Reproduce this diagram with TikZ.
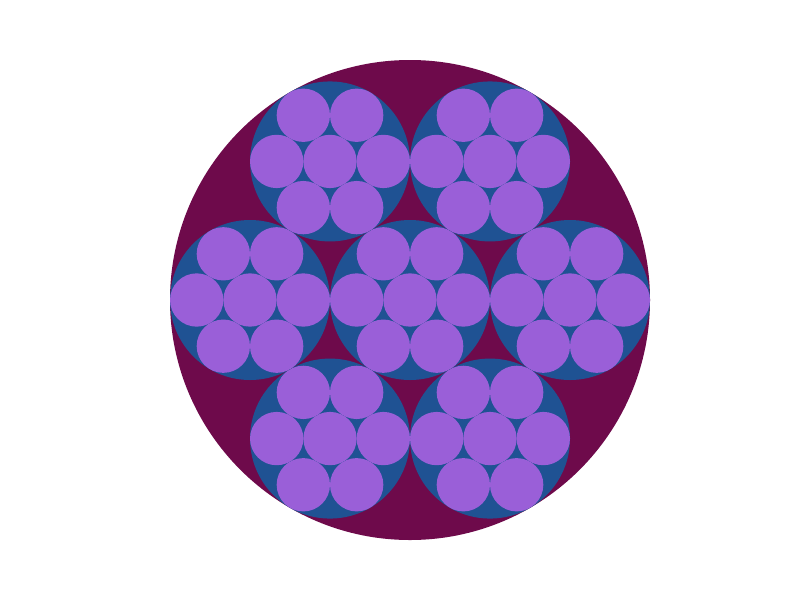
\documentclass[tikz,border=0pt]{standalone}
\definecolor{outerc}{HTML}{6E0A4B}
\definecolor{midc}{HTML}{1F5293}
\definecolor{smallc}{HTML}{9A5FD8}
\begin{document}
\begin{tikzpicture}[x=1pt,y=-1pt]
\useasboundingbox (0,0) rectangle (800,600);
\fill[outerc] (410,300) circle (240);
\foreach \a/\r in {0/0,0/160,60/160,120/160,180/160,240/160,300/160}{
  \begin{scope}[shift={({410+\r*cos(\a)},{300+\r*sin(\a)})}]
    \fill[midc] (0,0) circle (80);
    \foreach \b/\s in {0/0,0/53.333,60/53.333,120/53.333,180/53.333,240/53.333,300/53.333}{
      \fill[smallc] ({\s*cos(\b)},{\s*sin(\b)}) circle (26.667);
    }
  \end{scope}
}
\end{tikzpicture}
\end{document}
